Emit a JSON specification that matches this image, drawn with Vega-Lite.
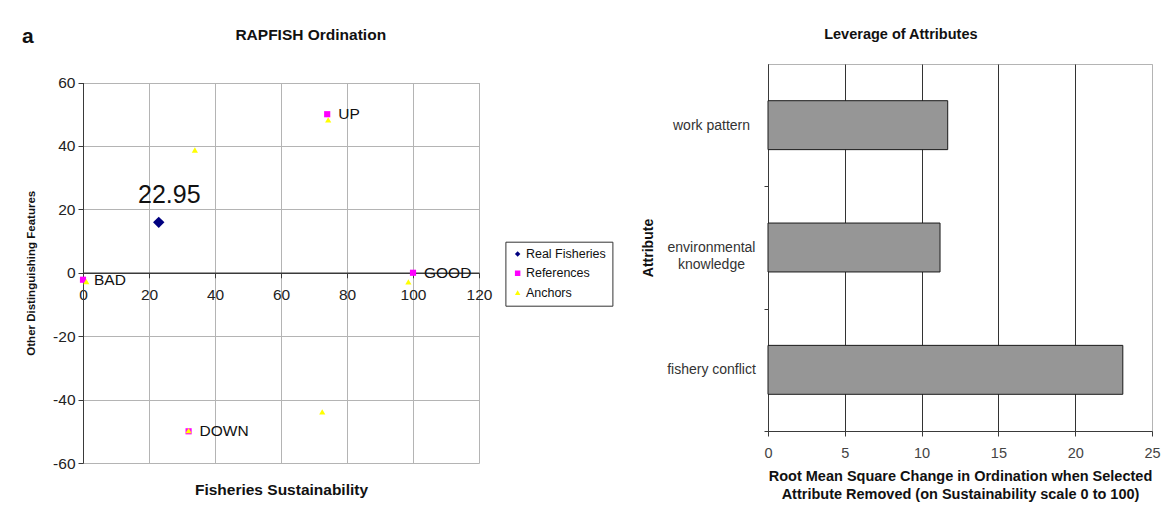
{
  "$schema": "https://vega.github.io/schema/vega-lite/v6.json",
  "background": "white",
  "padding": {"left": 22, "top": 25, "right": 0, "bottom": 0},
  "title": {"text": "a", "anchor": "start", "fontSize": 21, "fontWeight": "bold", "offset": -20, "dx": -3.5, "color": "#111"},
  "spacing": 149,
  "config": {
    "font": "Liberation Sans",
    "view": {"stroke": "#b4b4b4"},
    "axis": {"labelColor": "#222", "titleColor": "#111", "domainColor": "#3a3a3a", "tickColor": "#3a3a3a", "labelFlush": false, "labelOverlap": false}
  },
  "hconcat": [
    {
      "width": 396,
      "height": 399,
      "view": {"stroke": null},
      "title": {"text": "RAPFISH Ordination", "fontSize": 15.5, "fontWeight": "bold", "anchor": "middle", "frame": "bounds", "offset": 20.1, "dx": 52, "color": "#111"},
      "data": {
        "values": [
          {"series": "Real Fisheries", "x": 22.95, "y": 15.9},
          {"series": "References", "x": 0, "y": -2.2, "label": "BAD"},
          {"series": "References", "x": 100, "y": 0, "label": "GOOD"},
          {"series": "References", "x": 74, "y": 50, "label": "UP"},
          {"series": "References", "x": 32, "y": -50, "label": "DOWN"},
          {"series": "Anchors", "x": 1, "y": -2.8},
          {"series": "Anchors", "x": 98.6, "y": -2.9},
          {"series": "Anchors", "x": 74.3, "y": 48.2},
          {"series": "Anchors", "x": 33.9, "y": 38.7},
          {"series": "Anchors", "x": 32, "y": -49.8},
          {"series": "Anchors", "x": 72.5, "y": -43.9}
        ]
      },
      "resolve": {"axis": {"x": "independent"}},
      "layer": [
        {
          "mark": {"type": "point", "filled": true, "opacity": 1, "strokeWidth": 0},
          "encoding": {
            "x": {
              "field": "x", "type": "quantitative",
              "scale": {"domain": [0, 120], "nice": false},
              "axis": {
                "orient": "top", "values": [0, 20, 40, 60, 80, 100, 120],
                "grid": true, "gridColor": "#b4b4b4",
                "labels": false, "ticks": false, "domain": false, "title": null
              }
            },
            "y": {
              "field": "y", "type": "quantitative",
              "scale": {"domain": [-60, 60], "nice": false, "range": [399, 18.5]},
              "title": "Other Distinguishing Features",
              "axis": {
                "values": [-60, -40, -20, 0, 20, 40, 60],
                "labelExpr": "replace(datum.label, '\u2212', '-')",
                "grid": true, "gridColor": "#b4b4b4",
                "tickSize": 5, "labelFontSize": 15.5, "labelPadding": 3,
                "titleFontSize": 11.5, "titleFontWeight": "bold", "titlePadding": 16
              }
            },
            "color": {
              "field": "series", "type": "nominal",
              "scale": {"domain": ["Real Fisheries", "References", "Anchors"], "range": ["#000080", "#ff00ff", "#ffff00"]},
              "legend": {"orient": "none", "legendX": 422.4, "legendY": 177.7, "title": null, "strokeColor": "#333", "fillColor": "white", "padding": 6, "labelFontSize": 12.5, "labelColor": "#111", "symbolSize": 30, "rowPadding": 6.3, "labelOffset": 2}
            },
            "shape": {
              "field": "series", "type": "nominal",
              "scale": {"domain": ["Real Fisheries", "References", "Anchors"], "range": ["diamond", "square", "triangle-up"]},
              "legend": {"orient": "none", "legendX": 422.4, "legendY": 177.7, "title": null, "strokeColor": "#333", "fillColor": "white", "padding": 6, "labelFontSize": 12.5, "labelColor": "#111", "symbolSize": 30, "rowPadding": 6.3, "labelOffset": 2}
            },
            "size": {"condition": {"test": "datum.series === 'Real Fisheries'", "value": 130}, "value": 38}
          }
        },
        {
          "transform": [{"filter": "isValid(datum.label)"}],
          "mark": {"type": "text", "align": "left", "baseline": "middle", "dx": 11, "fontSize": 15.5, "color": "#111"},
          "encoding": {
            "x": {
              "field": "x", "type": "quantitative",
              "title": "Fisheries Sustainability",
              "axis": {
                "orient": "bottom", "values": [0, 20, 40, 60, 80, 100, 120],
                "offset": -190.25, "grid": false,
                "domainWidth": 1.5, "tickSize": 5,
                "labelFontSize": 15.5, "labelPadding": 10,
                "titleFontSize": 15.5, "titleFontWeight": "bold",
                "titleY": 217, "titleBaseline": "middle"
              }
            },
            "y": {"field": "y", "type": "quantitative"},
            "text": {"field": "label"}
          }
        },
        {
          "transform": [{"filter": "datum.series === 'Real Fisheries'"}],
          "mark": {"type": "text", "align": "center", "baseline": "middle", "dx": 10.6, "dy": -27, "fontSize": 25, "color": "#111"},
          "encoding": {
            "x": {"field": "x", "type": "quantitative", "axis": null},
            "y": {"field": "y", "type": "quantitative"},
            "text": {"field": "x", "type": "quantitative", "format": ".2f"}
          }
        }
      ]
    },
    {
      "width": 384,
      "height": 367,
      "title": {"text": "Leverage of Attributes", "fontSize": 14.5, "fontWeight": "bold", "anchor": "middle", "frame": "bounds", "offset": 21.5, "color": "#111"},
      "data": {
        "values": [
          {"attribute": "work pattern", "rms": 11.7},
          {"attribute": "environmental knowledge", "rms": 11.2},
          {"attribute": "fishery conflict", "rms": 23.1}
        ]
      },
      "mark": {"type": "bar", "fill": "#969696", "stroke": "#1a1a1a", "strokeWidth": 1},
      "encoding": {
        "x": {
          "field": "rms", "type": "quantitative",
          "scale": {"domain": [0, 25], "nice": false},
          "title": ["Root Mean Square Change in Ordination when Selected", "Attribute Removed (on Sustainability scale 0 to 100)"],
          "axis": {
            "values": [0, 5, 10, 15, 20, 25],
            "grid": true,
            "gridColor": {"condition": {"test": "datum.value >= 25", "value": "#b4b4b4"}, "value": "#333"},
            "tickSize": 5, "labelFontSize": 14.5, "labelPadding": 10, "labelColor": "#444",
            "titleFontSize": 14.5, "titleFontWeight": "bold", "titleLineHeight": 17.6, "titlePadding": 10
          }
        },
        "y": {
          "field": "attribute", "type": "nominal",
          "sort": ["work pattern", "environmental knowledge", "fishery conflict"],
          "scale": {"paddingInner": 0.6, "paddingOuter": 0.3},
          "title": "Attribute",
          "axis": {
            "grid": false, "tickSize": 4,
            "tickOffset": 61.17, "labelOffset": -61.17,
            "labelExpr": "datum.value == 'environmental knowledge' ? ['environmental', 'knowledge'] : datum.value",
            "labelAlign": "center", "labelPadding": 53, "labelFontSize": 14, "labelLineHeight": 16.7, "labelColor": "#333",
            "titleFontSize": 14, "titleFontWeight": "bold", "titlePadding": 11
          }
        }
      }
    }
  ]
}
